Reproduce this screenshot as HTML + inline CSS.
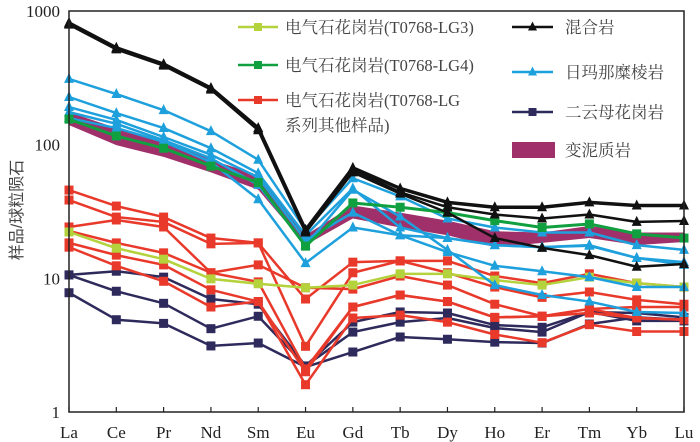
<!DOCTYPE html>
<html><head><meta charset="utf-8"><style>
html,body{margin:0;padding:0;background:#fff;}
svg{display:block;font-family:"Liberation Serif","Noto Serif CJK SC",serif;}
</style></head><body>
<svg id="chart" width="700" height="442" viewBox="0 0 700 442">
<g id="plot"></g>
<g id="axes"></g>
<g id="legend"></g>
</svg>
<script>
const categories = ["La","Ce","Pr","Nd","Sm","Eu","Gd","Tb","Dy","Ho","Er","Tm","Yb","Lu"];
const yTicks = [1,10,100,1000];
const yTickLabels = ["1","10","100","1000"];
const bandUpper = [175,133,108,77,59,21,35,31,27,22.5,22,24.6,22,22];
const bandLower = [140,99,81,62,46,17.7,28,24,21,17.1,18.4,20,17.7,18.7];
const redSeries = [
 [45.7,34.7,28.7,20,18.4,7.0,13.2,13.5,13.5,10.4,9.2,10.8,9.2,8.6],
 [38.5,28.7,26.4,18.1,18.4,3.1,11.0,13.5,11.0,8.6,7.2,7.9,6.9,6.4],
 [24.2,27.3,24.2,11.0,12.6,8.5,8.3,10.4,8.9,6.4,5.2,5.9,6.1,6.1],
 [22.6,18.4,15.5,11.0,9.4,2.1,6.1,7.5,6.7,5.1,5.2,5.5,5.05,4.9],
 [18.4,14.9,12.6,8.2,6.7,1.6,5.05,5.3,4.7,3.8,3.3,4.5,4.0,4.0],
 [17.1,12.4,9.5,6.1,6.7,2.0,6.1,7.5,6.7,5.1,5.2,5.9,5.05,4.9]
];
const navySeries = [
 [10.6,11.3,10.2,7.0,6.4,2.21,4.7,5.6,5.5,4.47,4.3,5.6,5.5,5.1],
 [10.6,8.0,6.5,4.2,5.2,2.21,3.96,4.7,5.05,4.25,3.96,5.6,4.8,4.8],
 [7.8,4.9,4.6,3.12,3.28,2.17,2.81,3.64,3.5,3.33,3.28,4.55,5.1,4.9]
];
const lg3Series = [22.2,16.8,13.9,9.9,9.1,8.5,8.9,10.8,10.8,9.7,8.9,10.2,9.2,8.6];
const lg4Series = [155,116,94,69,52,17.4,36.6,34,31,27,24,25.5,21.5,20];
const blueSeries = [
 [310,239,181,126,77,23,56,41,28,24,22,22,17.7,16.3],
 [227,172,133,94,61,21,47,24,20,17.7,17.1,17.5,14.2,13.2],
 [191,153,114,84,57,19.3,31,21,15.7,12.4,11.3,10.2,8.6,8.6],
 [158,133,105,74,39,13,24,21,20,17.7,17.1,17.7,14.2,12.6],
 [175,143,108,79,50,17.7,46,29,16.3,8.9,7.5,6.7,5.6,5.5]
];
const blackSeries = [
 [813,530,400,265,133,23,67,47,37,34,34,37,35,35],
 [800,520,395,260,130,22.5,65,44,34,30,28,30,26.4,26.8],
 [790,515,390,258,128,22,62,43,31,20,16.9,14.9,12.2,12.8]
];

const NS="http://www.w3.org/2000/svg";
const X0=69, XSTEP=(684-69)/13, Y1=412, DEC=133.7;
function xs(i){return X0+i*XSTEP;}
function ys(v){return Y1-DEC*Math.log10(v);}
function mk(tag,attrs,parent){const e=document.createElementNS(NS,tag);for(const k in attrs)e.setAttribute(k,attrs[k]);parent.appendChild(e);return e;}
const plot=document.getElementById('plot'), axes=document.getElementById('axes'), legend=document.getElementById('legend');

// band
let pts=bandUpper.map((v,i)=>xs(i)+","+ys(v));
for(let i=bandLower.length-1;i>=0;i--)pts.push(xs(i)+","+ys(bandLower[i]));
const band=mk('polygon',{points:pts.join(" "),fill:"#a0306a"},plot);



function marker(g,type,x,y,color,s){
  let m;
  if(type==='sq'){m=mk('rect',{x:x-s,y:y-s,width:2*s,height:2*s,fill:color},g);}
  else {m=mk('polygon',{points:(x)+","+(y-s-1)+" "+(x-s)+","+(y+s-1)+" "+(x+s)+","+(y+s-1),fill:color},g);}
  
  
}
function drawSeries(vals,color,type,name,w){
  const g=mk('g',{},plot);
  
  
  const line=mk('polyline',{points:vals.map((v,i)=>xs(i)+","+ys(v)).join(" "),fill:"none",stroke:color,"stroke-width":w||2.5,"stroke-linejoin":"round"},g);
  
  
  vals.forEach((v,i)=>marker(g,type,xs(i),ys(v),color,type==='sq'?4.5:5));
}
navySeries.forEach((s,k)=>drawSeries(s,"#2e2a5c","sq","two-mica-granite-"+(k+1)));
redSeries.forEach((s,k)=>drawSeries(s,"#e8392b","sq","tourmaline-granite-lg-"+(k+1)));
drawSeries(lg3Series,"#b4d23c","sq","tourmaline-granite-lg3");
blueSeries.forEach((s,k)=>drawSeries(s,"#1ea0dc","tri","rimana-mylonite-"+(k+1)));
drawSeries(lg4Series,"#10a040","sq","tourmaline-granite-lg4",3);
blackSeries.forEach((s,k)=>drawSeries(s,"#111111","tri","migmatite-"+(k+1),k===0?3.5:2.5));

// frame
const fr=mk('rect',{x:X0,y:11,width:684-X0,height:Y1-11,fill:"none",stroke:"#222","stroke-width":1.5},axes);


categories.forEach((c,i)=>{
  const t=mk('line',{x1:xs(i),x2:xs(i),y1:Y1,y2:Y1-5,stroke:"#222","stroke-width":1.2},axes);
  
  
  const tx=mk('text',{x:xs(i),y:438,"text-anchor":"middle","font-size":17,fill:"#222"},axes);
  tx.textContent=c;
  
  
});
yTicks.forEach((v,i)=>{
  const tx=mk('text',{x:60,y:ys(v)+6,"text-anchor":"end","font-size":17,fill:"#222"},axes);
  tx.textContent=yTickLabels[i];
  
  
});
const yt=mk('text',{x:0,y:0,"text-anchor":"middle","font-size":16,fill:"#444",transform:"translate(22,210) rotate(-90)","font-family":"Liberation Sans, Noto Sans CJK SC, sans-serif"},axes);
yt.textContent="样品/球粒陨石";



// legend
function legLine(x1,x2,y,color,type,label,lx,name){
  const g=mk('g',{},legend);
  
  
  mk('line',{x1:x1,x2:x2,y1:y,y2:y,stroke:color,"stroke-width":2.5},g);
  marker(g,type,(x1+x2)/2,y,color,type==='sq'?4:4.5);
  const t=mk('text',{x:lx,y:y+6,"font-size":16.5,fill:"#444","font-family":"Liberation Serif, Noto Serif CJK SC, serif"},g);
  t.textContent=label;
  return t;
}
legLine(238,278,27,"#b4d23c","sq","电气石花岗岩(T0768-LG3)",285,"legend-lg3");
legLine(238,278,65,"#10a040","sq","电气石花岗岩(T0768-LG4)",285,"legend-lg4");
legLine(238,278,100,"#e8392b","sq","电气石花岗岩(T0768-LG",285,"legend-lg-other");
const t2=mk('text',{x:285,y:131,"font-size":16.5,fill:"#444"},legend);
t2.textContent="系列其他样品)";


legLine(512,553,27,"#111111","tri","混合岩",565,"legend-migmatite");
legLine(512,553,72,"#1ea0dc","tri","日玛那糜棱岩",565,"legend-mylonite");
legLine(512,553,112,"#2e2a5c","sq","二云母花岗岩",565,"legend-two-mica-granite");
const lr=mk('rect',{x:512,y:142,width:43,height:16,fill:"#a0306a"},legend);


const lt=mk('text',{x:565,y:156,"font-size":16.5,fill:"#444"},legend);
lt.textContent="变泥质岩";


</script>
</body></html>
